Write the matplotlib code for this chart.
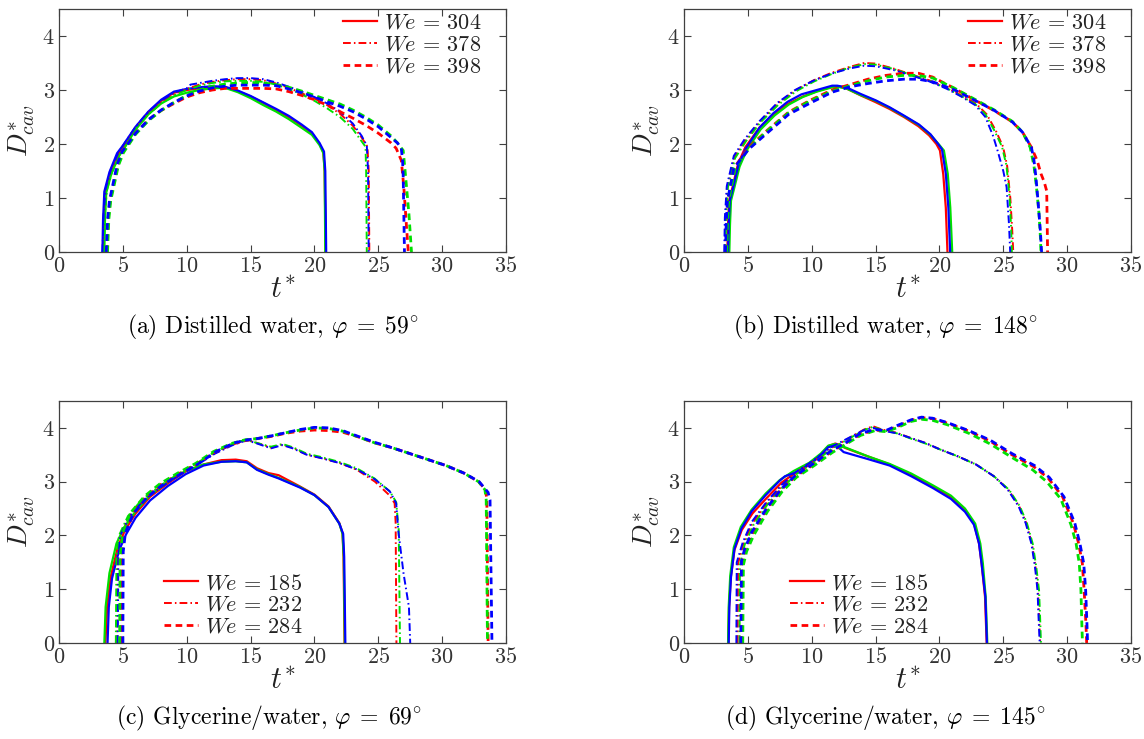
import matplotlib
matplotlib.use('Agg')
import matplotlib.pyplot as plt

plt.rcParams['font.family'] = ['cmr10', 'DejaVu Serif']
plt.rcParams['mathtext.fontset'] = 'cm'
plt.rcParams['axes.unicode_minus'] = False
plt.rcParams['axes.formatter.use_mathtext'] = True

# Weber-Zahlen fuer die Legenden
we_top = [304, 378, 398]
we_bottom = [185, 232, 284]

captions = [r'(a) Distilled water, $\varphi\;=\;59^{\circ}$',
            r'(b) Distilled water, $\varphi\;=\;148^{\circ}$',
            r'(c) Glycerine/water, $\varphi\;=\;69^{\circ}$',
            r'(d) Glycerine/water, $\varphi\;=\;145^{\circ}$']

# ---------------- (a) Distilled water, 59 deg ----------------
a304_r_t = [3.45, 3.5, 3.6, 4.0, 4.6, 5.0, 6.0, 7.0, 8.0, 9.0, 10.0, 11.0, 12.0, 13.0, 14.0, 15.0, 16.0, 17.0, 18.0, 19.0, 19.8, 20.4, 20.7, 20.8, 20.88]
a304_r_d = [0, 0.6, 1.1, 1.45, 1.8, 1.95, 2.3, 2.58, 2.8, 2.95, 3.0, 3.03, 3.05, 3.05, 2.98, 2.88, 2.76, 2.63, 2.5, 2.34, 2.2, 2.0, 1.85, 1.5, 0]
a304_g_t = [3.55, 3.6, 3.7, 4.1, 4.7, 5.1, 6.0, 7.0, 8.0, 9.0, 10.0, 11.0, 12.0, 13.0, 14.0, 15.0, 16.0, 17.0, 18.0, 19.0, 19.8, 20.4, 20.7, 20.8, 20.85]
a304_g_d = [0, 0.6, 1.1, 1.45, 1.78, 1.92, 2.27, 2.55, 2.75, 2.88, 2.95, 3.0, 3.03, 3.04, 2.96, 2.85, 2.72, 2.6, 2.46, 2.3, 2.17, 1.98, 1.83, 1.5, 0]
a304_b_t = [3.4, 3.45, 3.55, 3.95, 4.55, 5.0, 6.0, 7.0, 8.0, 9.0, 10.0, 11.0, 12.0, 13.0, 14.0, 15.0, 16.0, 17.0, 18.0, 19.0, 19.8, 20.4, 20.75, 20.85, 20.92]
a304_b_d = [0, 0.6, 1.12, 1.48, 1.83, 1.97, 2.32, 2.6, 2.82, 2.97, 3.02, 3.05, 3.07, 3.06, 2.99, 2.89, 2.77, 2.65, 2.52, 2.36, 2.22, 2.02, 1.86, 1.5, 0]

a378_r_t = [3.45, 3.55, 3.7, 4.1, 4.7, 5.2, 6.0, 7.0, 8.0, 9.0, 10.0, 11.0, 12.0, 13.0, 14.0, 15.0, 16.0, 17.0, 18.0, 19.0, 20.0, 21.0, 22.0, 23.0, 23.7, 24.15, 24.25, 24.3]
a378_r_d = [0, 0.7, 1.15, 1.5, 1.82, 2.0, 2.3, 2.58, 2.78, 2.92, 3.02, 3.1, 3.15, 3.18, 3.2, 3.2, 3.18, 3.12, 3.04, 2.94, 2.84, 2.72, 2.56, 2.34, 2.12, 1.95, 1.5, 0]
a378_g_t = [3.5, 3.6, 3.75, 4.15, 4.75, 5.25, 6.0, 7.0, 8.0, 9.0, 10.0, 11.0, 12.0, 13.0, 14.0, 15.0, 16.0, 17.0, 18.0, 19.0, 20.0, 21.0, 22.0, 23.0, 23.6, 24.0, 24.05, 24.1]
a378_g_d = [0, 0.7, 1.15, 1.48, 1.8, 1.98, 2.28, 2.55, 2.75, 2.9, 3.0, 3.08, 3.13, 3.16, 3.17, 3.17, 3.15, 3.1, 3.02, 2.92, 2.8, 2.66, 2.5, 2.28, 2.08, 1.95, 1.5, 0]
a378_b_t = [3.4, 3.5, 3.65, 4.05, 4.65, 5.15, 6.0, 7.0, 8.0, 9.0, 10.0, 10.3, 12.0, 13.0, 14.0, 15.0, 16.0, 17.0, 18.0, 19.0, 20.0, 21.0, 22.0, 23.0, 23.7, 24.1, 24.2, 24.25]
a378_b_d = [0, 0.7, 1.17, 1.52, 1.84, 2.02, 2.32, 2.6, 2.8, 2.95, 3.03, 3.1, 3.17, 3.2, 3.22, 3.22, 3.2, 3.14, 3.06, 2.97, 2.87, 2.75, 2.6, 2.38, 2.15, 1.97, 1.5, 0]

a398_r_t = [3.75, 3.85, 4.0, 4.6, 5.0, 6.0, 7.0, 8.0, 9.0, 10.0, 11.0, 12.0, 13.0, 14.0, 15.0, 16.0, 17.0, 18.0, 19.0, 20.0, 21.0, 22.0, 23.0, 24.0, 25.0, 26.0, 26.4, 26.8, 27.0, 27.2, 27.35]
a398_r_d = [0, 0.6, 0.95, 1.6, 1.85, 2.2, 2.45, 2.62, 2.75, 2.87, 2.95, 3.0, 3.03, 3.03, 3.03, 3.03, 3.02, 2.97, 2.9, 2.82, 2.72, 2.6, 2.48, 2.35, 2.2, 2.02, 1.92, 1.7, 1.2, 0.5, 0]
a398_g_t = [3.8, 3.9, 4.05, 4.65, 5.05, 6.0, 7.0, 8.0, 9.0, 10.0, 11.0, 12.0, 13.0, 14.0, 15.0, 16.0, 17.0, 18.0, 19.0, 20.0, 21.0, 22.0, 23.0, 24.0, 25.0, 26.0, 26.5, 26.95, 27.1, 27.4, 27.6]
a398_g_d = [0, 0.6, 0.95, 1.6, 1.84, 2.18, 2.43, 2.62, 2.77, 2.9, 3.0, 3.07, 3.11, 3.13, 3.14, 3.13, 3.1, 3.05, 2.98, 2.9, 2.82, 2.74, 2.63, 2.5, 2.35, 2.15, 2.02, 1.88, 1.5, 0.7, 0]
a398_b_t = [3.7, 3.8, 3.95, 4.55, 4.95, 6.0, 7.0, 8.0, 9.0, 10.0, 11.0, 12.0, 13.0, 14.0, 15.0, 16.0, 17.0, 18.0, 19.0, 20.0, 21.0, 22.0, 23.0, 24.0, 25.0, 26.0, 26.5, 26.8, 26.9, 26.95, 27.05]
a398_b_d = [0, 0.6, 0.95, 1.62, 1.86, 2.2, 2.45, 2.63, 2.77, 2.89, 2.98, 3.04, 3.07, 3.09, 3.09, 3.09, 3.08, 3.02, 2.95, 2.87, 2.78, 2.7, 2.6, 2.47, 2.32, 2.12, 2.02, 1.92, 1.7, 1.4, 0]

# ---------------- (b) Distilled water, 148 deg ----------------
b304_r_t = [3.39, 3.45, 3.53, 3.8, 4.23, 4.8, 5.93, 7.06, 8.19, 9.31, 10.44, 11.57, 12.0, 12.7, 13.83, 14.96, 16.09, 17.22, 18.35, 19.19, 19.76, 20.04, 20.3, 20.5, 20.63]
b304_r_d = [0, 0.5, 0.95, 1.2, 1.63, 1.94, 2.31, 2.56, 2.75, 2.88, 2.98, 3.06, 3.07, 3.03, 2.9, 2.78, 2.65, 2.5, 2.33, 2.16, 2.0, 1.88, 1.44, 0.82, 0]
b304_g_t = [3.55, 3.6, 3.68, 3.95, 4.35, 4.9, 6.0, 7.1, 8.2, 9.3, 10.4, 11.6, 12.0, 12.7, 13.8, 15.0, 16.1, 17.2, 18.4, 19.3, 20.0, 20.35, 20.65, 20.85, 21.0]
b304_g_d = [0, 0.5, 0.95, 1.2, 1.58, 1.88, 2.27, 2.53, 2.73, 2.87, 2.97, 3.05, 3.06, 3.03, 2.91, 2.8, 2.67, 2.52, 2.35, 2.17, 1.98, 1.88, 1.45, 0.82, 0]
b304_b_t = [3.45, 3.5, 3.58, 3.85, 4.25, 4.8, 5.9, 7.0, 8.1, 9.2, 10.4, 11.6, 12.0, 12.7, 13.8, 15.0, 16.1, 17.2, 18.4, 19.3, 19.9, 20.2, 20.5, 20.7, 20.84]
b304_b_d = [0, 0.5, 0.95, 1.2, 1.6, 1.9, 2.3, 2.57, 2.78, 2.92, 3.0, 3.08, 3.08, 3.05, 2.93, 2.81, 2.68, 2.53, 2.36, 2.18, 2.0, 1.9, 1.45, 0.82, 0]

b378_r_t = [3.2, 3.25, 3.39, 3.95, 4.8, 5.93, 7.34, 8.75, 10.16, 11.57, 13.0, 14.1, 14.96, 16.37, 17.78, 19.19, 20.6, 21.73, 22.86, 23.7, 24.41, 24.98, 25.3, 25.55, 25.7, 25.78]
b378_r_d = [0, 0.64, 1.2, 1.76, 2.07, 2.41, 2.75, 3.0, 3.18, 3.32, 3.43, 3.5, 3.49, 3.4, 3.29, 3.18, 3.04, 2.9, 2.75, 2.55, 2.25, 1.95, 1.6, 1.0, 0.4, 0]
b378_g_t = [3.25, 3.3, 3.44, 4.0, 4.85, 5.98, 7.4, 8.8, 10.2, 11.6, 13.0, 14.2, 15.0, 16.4, 17.8, 19.2, 20.6, 21.7, 22.8, 23.6, 24.3, 24.9, 25.25, 25.5, 25.62, 25.67]
b378_g_d = [0, 0.64, 1.2, 1.74, 2.05, 2.4, 2.73, 2.98, 3.16, 3.3, 3.42, 3.48, 3.47, 3.39, 3.28, 3.17, 3.03, 2.89, 2.74, 2.55, 2.25, 1.95, 1.6, 1.0, 0.4, 0]
b378_b_t = [3.15, 3.2, 3.35, 3.9, 4.75, 5.9, 7.3, 8.7, 10.1, 11.5, 13.0, 14.1, 15.0, 16.4, 17.8, 19.2, 20.6, 21.7, 22.8, 23.6, 24.2, 24.55, 25.0, 25.26, 25.45, 25.54]
b378_b_d = [0, 0.64, 1.22, 1.78, 2.09, 2.42, 2.76, 3.0, 3.17, 3.3, 3.4, 3.45, 3.44, 3.37, 3.27, 3.16, 3.02, 2.88, 2.72, 2.5, 2.15, 1.88, 1.5, 1.2, 0.5, 0]

b398_r_t = [3.3, 3.35, 3.45, 3.95, 5.08, 6.5, 8.19, 9.88, 11.57, 13.0, 14.4, 15.8, 17.2, 18.35, 19.47, 21.17, 22.58, 24.27, 25.7, 26.5, 27.2, 27.66, 27.95, 28.2, 28.4, 28.47]
b398_r_d = [0, 0.5, 0.95, 1.57, 1.94, 2.25, 2.59, 2.81, 3.0, 3.1, 3.2, 3.27, 3.31, 3.31, 3.24, 3.03, 2.84, 2.62, 2.41, 2.22, 1.94, 1.69, 1.45, 1.3, 1.13, 0]
b398_g_t = [3.35, 3.4, 3.5, 4.0, 5.1, 6.5, 8.2, 9.9, 11.6, 13.0, 14.4, 15.8, 17.2, 18.35, 19.5, 21.2, 22.6, 24.3, 25.7, 26.5, 27.1, 27.4, 27.6, 27.8, 27.9, 27.95]
b398_g_d = [0, 0.5, 0.95, 1.55, 1.92, 2.24, 2.58, 2.8, 2.98, 3.08, 3.17, 3.24, 3.27, 3.27, 3.22, 3.03, 2.85, 2.63, 2.42, 2.22, 1.94, 1.6, 1.2, 0.7, 0.3, 0]
b398_b_t = [3.25, 3.3, 3.4, 3.9, 5.05, 6.5, 8.2, 9.9, 11.6, 13.0, 14.4, 15.8, 17.2, 18.35, 19.5, 21.2, 22.6, 24.3, 25.7, 26.5, 27.2, 27.4, 27.55, 27.7, 27.9, 28.0]
b398_b_d = [0, 0.5, 0.95, 1.55, 1.9, 2.2, 2.55, 2.76, 2.96, 3.06, 3.12, 3.17, 3.2, 3.2, 3.15, 3.0, 2.83, 2.62, 2.41, 2.22, 1.94, 1.7, 1.4, 1.0, 0.4, 0]

# ---------------- (c) Glycerine/water, 69 deg ----------------
c185_r_t = [3.63, 3.77, 4.05, 4.61, 5.17, 6.0, 7.13, 8.53, 9.92, 11.32, 12.72, 13.84, 14.7, 15.5, 16.4, 17.2, 18.87, 20.0, 21.1, 21.95, 22.2, 22.28, 22.36]
c185_r_d = [0, 0.67, 1.23, 1.79, 2.1, 2.41, 2.72, 2.97, 3.19, 3.32, 3.4, 3.41, 3.38, 3.25, 3.16, 3.12, 2.91, 2.76, 2.54, 2.23, 2.04, 1.6, 0]
c185_g_t = [3.55, 3.65, 3.95, 4.5, 5.1, 6.0, 7.13, 8.53, 9.92, 11.32, 12.72, 13.84, 14.7, 15.5, 16.4, 17.2, 18.87, 20.0, 21.1, 21.95, 22.2, 22.3, 22.38]
c185_g_d = [0, 0.67, 1.3, 1.85, 2.15, 2.45, 2.75, 3.0, 3.2, 3.32, 3.37, 3.38, 3.36, 3.23, 3.14, 3.07, 2.9, 2.75, 2.53, 2.22, 2.03, 1.6, 0]
c185_b_t = [3.8, 3.9, 4.15, 4.7, 5.25, 6.0, 7.13, 8.53, 9.92, 11.32, 12.72, 13.84, 14.7, 15.5, 16.4, 17.2, 18.87, 20.0, 21.1, 21.95, 22.25, 22.33, 22.42]
c185_b_d = [0, 0.67, 1.2, 1.72, 2.02, 2.33, 2.65, 2.92, 3.14, 3.3, 3.37, 3.38, 3.36, 3.22, 3.13, 3.06, 2.89, 2.75, 2.53, 2.22, 2.03, 1.6, 0]

c232_r_t = [4.55, 4.6, 4.75, 5.45, 6.57, 7.97, 9.37, 10.76, 12.16, 13.56, 14.68, 15.5, 16.63, 17.47, 18.3, 19.43, 20.55, 21.95, 23.34, 24.74, 25.86, 26.28, 26.36, 26.42]
c232_r_d = [0, 1.6, 2.0, 2.35, 2.66, 2.91, 3.13, 3.32, 3.53, 3.69, 3.78, 3.72, 3.63, 3.69, 3.63, 3.5, 3.44, 3.35, 3.22, 3.0, 2.75, 2.6, 2.23, 0]
c232_g_t = [4.45, 4.5, 4.7, 5.4, 6.5, 7.9, 9.3, 10.7, 12.1, 13.5, 14.6, 15.5, 16.6, 17.5, 18.3, 19.4, 20.5, 21.9, 23.3, 24.7, 25.9, 26.4, 26.6, 26.7]
c232_g_d = [0, 1.6, 2.0, 2.36, 2.67, 2.92, 3.14, 3.33, 3.54, 3.7, 3.78, 3.72, 3.65, 3.7, 3.64, 3.52, 3.46, 3.37, 3.25, 3.06, 2.82, 2.62, 2.1, 0]
c232_b_t = [4.6, 4.65, 4.8, 5.5, 6.6, 8.0, 9.4, 10.8, 12.2, 13.6, 14.7, 15.5, 16.6, 17.5, 18.3, 19.4, 20.5, 21.9, 23.3, 24.7, 25.9, 26.4, 26.56, 26.98, 27.4, 27.5]
c232_b_d = [0, 1.6, 2.0, 2.34, 2.65, 2.9, 3.12, 3.31, 3.52, 3.68, 3.77, 3.71, 3.62, 3.68, 3.62, 3.5, 3.44, 3.35, 3.23, 3.05, 2.82, 2.6, 2.1, 1.29, 0.67, 0]

c284_r_t = [4.85, 4.88, 5.1, 5.7, 6.8, 8.0, 9.4, 10.8, 12.2, 13.6, 14.7, 15.5, 16.6, 17.75, 18.87, 20.0, 21.1, 22.2, 23.34, 24.74, 26.1, 27.5, 28.9, 30.3, 31.7, 32.85, 33.4, 33.5, 33.6]
c284_r_d = [0, 1.6, 2.05, 2.4, 2.72, 2.95, 3.15, 3.33, 3.55, 3.7, 3.77, 3.8, 3.84, 3.9, 3.94, 3.96, 3.95, 3.92, 3.84, 3.72, 3.63, 3.52, 3.41, 3.3, 3.16, 3.0, 2.85, 2.66, 0]
c284_g_t = [4.75, 4.78, 5.0, 5.6, 6.7, 7.9, 9.3, 10.7, 12.1, 13.5, 14.6, 15.5, 16.6, 17.75, 18.87, 20.0, 21.1, 22.2, 23.34, 24.74, 26.1, 27.5, 28.9, 30.3, 31.7, 32.85, 33.35, 33.45, 33.55]
c284_g_d = [0, 1.6, 2.05, 2.42, 2.73, 2.96, 3.16, 3.34, 3.56, 3.71, 3.78, 3.8, 3.85, 3.91, 3.96, 4.0, 3.99, 3.94, 3.84, 3.72, 3.63, 3.52, 3.41, 3.3, 3.16, 3.0, 2.85, 2.66, 0]
c284_b_t = [5.0, 5.03, 5.2, 5.8, 6.9, 8.1, 9.5, 10.9, 12.3, 13.7, 14.8, 15.5, 16.6, 17.75, 18.87, 20.0, 21.1, 22.2, 23.34, 24.74, 26.1, 27.5, 28.9, 30.3, 31.7, 32.9, 33.6, 33.75, 33.9]
c284_b_d = [0, 1.7, 2.05, 2.4, 2.71, 2.94, 3.14, 3.33, 3.56, 3.72, 3.78, 3.8, 3.85, 3.91, 3.97, 4.01, 4.0, 3.95, 3.85, 3.73, 3.63, 3.52, 3.41, 3.3, 3.16, 3.0, 2.8, 2.66, 0]

# ---------------- (d) Glycerine/water, 145 deg ----------------
d185_r_t = [3.47, 3.53, 3.67, 3.95, 4.52, 5.36, 6.49, 7.62, 8.75, 9.88, 10.73, 11.29, 11.85, 12.7, 14.4, 16.1, 17.8, 19.5, 20.9, 22.0, 22.7, 23.1, 23.3, 23.57, 23.7]
d185_r_d = [0, 0.67, 1.23, 1.73, 2.1, 2.41, 2.7, 2.98, 3.17, 3.32, 3.5, 3.66, 3.71, 3.62, 3.47, 3.32, 3.13, 2.91, 2.72, 2.48, 2.23, 1.85, 1.48, 0.86, 0]
d185_g_t = [3.45, 3.5, 3.62, 3.9, 4.45, 5.3, 6.4, 7.5, 8.6, 9.8, 10.7, 11.3, 11.8, 12.7, 14.4, 16.1, 17.8, 19.5, 20.9, 22.0, 22.8, 23.2, 23.4, 23.62, 23.75]
d185_g_d = [0, 0.67, 1.25, 1.78, 2.16, 2.48, 2.78, 3.03, 3.2, 3.35, 3.52, 3.67, 3.7, 3.63, 3.47, 3.33, 3.15, 2.93, 2.74, 2.5, 2.22, 1.85, 1.48, 0.86, 0]
d185_b_t = [3.5, 3.55, 3.68, 3.95, 4.5, 5.3, 6.4, 7.5, 7.9, 8.75, 9.88, 10.73, 11.29, 11.9, 12.5, 14.4, 16.1, 17.8, 19.5, 20.9, 22.0, 22.7, 23.1, 23.3, 23.6, 23.72]
d185_b_d = [0, 0.67, 1.23, 1.75, 2.13, 2.45, 2.75, 3.02, 3.1, 3.17, 3.33, 3.5, 3.64, 3.68, 3.55, 3.42, 3.3, 3.1, 2.88, 2.68, 2.44, 2.2, 1.85, 1.48, 0.86, 0]

d232_r_t = [4.2, 4.23, 4.66, 5.36, 6.49, 7.62, 8.75, 10.16, 11.57, 12.7, 14.1, 14.8, 15.5, 16.65, 17.78, 18.9, 20.04, 21.45, 22.86, 24.27, 25.4, 26.25, 26.8, 27.24, 27.52, 27.72, 27.8, 27.89]
d232_r_d = [0, 1.48, 1.85, 2.23, 2.6, 2.91, 3.16, 3.38, 3.63, 3.78, 3.97, 4.03, 3.97, 3.91, 3.81, 3.72, 3.6, 3.47, 3.32, 3.1, 2.85, 2.54, 2.23, 1.85, 1.42, 0.98, 0.49, 0]
d232_g_t = [4.35, 4.38, 4.75, 5.45, 6.55, 7.7, 8.8, 10.2, 11.6, 12.7, 14.1, 14.8, 15.5, 16.65, 17.78, 18.9, 20.04, 21.45, 22.86, 24.27, 25.45, 26.3, 26.85, 27.3, 27.58, 27.8, 27.88, 27.95]
d232_g_d = [0, 1.45, 1.83, 2.2, 2.58, 2.89, 3.14, 3.36, 3.62, 3.77, 3.96, 4.02, 3.96, 3.9, 3.8, 3.71, 3.6, 3.47, 3.32, 3.1, 2.85, 2.54, 2.23, 1.85, 1.42, 0.98, 0.49, 0]
d232_b_t = [4.1, 4.13, 4.6, 5.3, 6.45, 7.6, 8.7, 10.1, 11.5, 12.7, 14.1, 14.8, 15.5, 16.65, 17.78, 18.9, 20.04, 21.45, 22.86, 24.27, 25.35, 26.2, 26.75, 27.2, 27.48, 27.68, 27.76, 27.85]
d232_b_d = [0, 1.5, 1.87, 2.25, 2.62, 2.93, 3.17, 3.39, 3.64, 3.79, 3.96, 4.0, 3.95, 3.9, 3.81, 3.72, 3.6, 3.47, 3.32, 3.1, 2.85, 2.54, 2.23, 1.85, 1.42, 0.98, 0.49, 0]

d284_r_t = [4.5, 4.55, 4.8, 5.36, 6.49, 7.62, 8.75, 10.16, 11.57, 12.7, 13.83, 14.96, 15.8, 16.65, 17.78, 18.6, 19.47, 20.6, 22.3, 23.99, 25.68, 27.38, 28.5, 29.64, 30.48, 30.9, 31.19, 31.33, 31.47, 31.53]
d284_r_d = [0, 1.5, 1.73, 2.04, 2.48, 2.85, 3.1, 3.32, 3.56, 3.72, 3.88, 3.96, 3.94, 4.02, 4.14, 4.19, 4.17, 4.09, 3.94, 3.75, 3.5, 3.28, 3.07, 2.72, 2.23, 1.85, 1.48, 0.98, 0.36, 0]
d284_g_t = [4.6, 4.65, 4.9, 5.45, 6.55, 7.7, 8.8, 10.2, 11.6, 12.7, 13.83, 14.96, 15.8, 16.65, 17.78, 18.6, 19.47, 20.6, 22.3, 23.99, 25.68, 27.3, 28.4, 29.5, 30.3, 30.7, 30.95, 31.08, 31.15, 31.2]
d284_g_d = [0, 1.45, 1.7, 2.0, 2.45, 2.82, 3.08, 3.3, 3.54, 3.7, 3.86, 3.95, 3.93, 4.0, 4.12, 4.16, 4.14, 4.06, 3.9, 3.7, 3.45, 3.22, 3.0, 2.68, 2.2, 1.85, 1.48, 0.98, 0.36, 0]
d284_b_t = [4.45, 4.5, 4.75, 5.3, 6.45, 7.6, 8.7, 10.1, 11.5, 12.7, 13.83, 14.96, 15.8, 16.65, 17.78, 18.6, 19.47, 20.6, 22.3, 23.99, 25.7, 27.45, 28.6, 29.75, 30.6, 31.0, 31.3, 31.45, 31.55, 31.6]
d284_b_d = [0, 1.52, 1.75, 2.06, 2.5, 2.86, 3.11, 3.33, 3.57, 3.73, 3.9, 3.97, 3.95, 4.04, 4.15, 4.2, 4.18, 4.1, 3.95, 3.77, 3.52, 3.3, 3.08, 2.72, 2.23, 1.85, 1.48, 0.98, 0.36, 0]

# Kurven je Panel: (Linienstil, [(t, D) fuer rot, gruen, blau])
panels = [
    [('solid', [(a304_r_t, a304_r_d), (a304_g_t, a304_g_d), (a304_b_t, a304_b_d)]),
     ('dashdot', [(a378_r_t, a378_r_d), (a378_g_t, a378_g_d), (a378_b_t, a378_b_d)]),
     ('dashed', [(a398_r_t, a398_r_d), (a398_g_t, a398_g_d), (a398_b_t, a398_b_d)])],
    [('solid', [(b304_r_t, b304_r_d), (b304_g_t, b304_g_d), (b304_b_t, b304_b_d)]),
     ('dashdot', [(b378_r_t, b378_r_d), (b378_g_t, b378_g_d), (b378_b_t, b378_b_d)]),
     ('dashed', [(b398_r_t, b398_r_d), (b398_g_t, b398_g_d), (b398_b_t, b398_b_d)])],
    [('solid', [(c185_r_t, c185_r_d), (c185_g_t, c185_g_d), (c185_b_t, c185_b_d)]),
     ('dashdot', [(c232_r_t, c232_r_d), (c232_g_t, c232_g_d), (c232_b_t, c232_b_d)]),
     ('dashed', [(c284_r_t, c284_r_d), (c284_g_t, c284_g_d), (c284_b_t, c284_b_d)])],
    [('solid', [(d185_r_t, d185_r_d), (d185_g_t, d185_g_d), (d185_b_t, d185_b_d)]),
     ('dashdot', [(d232_r_t, d232_r_d), (d232_g_t, d232_g_d), (d232_b_t, d232_b_d)]),
     ('dashed', [(d284_r_t, d284_r_d), (d284_g_t, d284_g_d), (d284_b_t, d284_b_d)])],
]
legend_we = [we_top, we_top, we_bottom, we_bottom]

colors = ['#ff0000', '#00e000', '#0000ff']
styles = {'solid': dict(linestyle='-', linewidth=1.6),
          'dashdot': dict(linestyle=(0, (4.0, 1.6, 0.8, 1.6)), linewidth=1.4),
          'dashed': dict(linestyle=(0, (2.4, 1.6)), linewidth=2.0)}

W, H = 1144, 739
fig = plt.figure(figsize=(W / 100, H / 100), dpi=100)

# Achsenpositionen in Pixeln (links, y der x-Achse, Breite, Hoehe)
boxes = [(59, 252, 447, 243), (684, 252, 447, 243),
         (59, 643, 447, 242), (684, 643, 447, 242)]
cap_pos = [(273, 327), (885, 327), (269, 718), (885, 718)]
leg_anchor = [(22.2, 4.42), (22.2, 4.42), (8.2, 1.3), (8.3, 1.3)]

grey = '#404040'
for i, ax_box in enumerate(boxes):
    x0, y0, w, h = ax_box
    ax = fig.add_axes([x0 / W, (H - y0) / H, w / W, h / H])
    handles = []
    for style, curves in panels[i]:
        for k, (t, d) in enumerate(curves):
            line, = ax.plot(t, d, color=colors[k], **styles[style])
            if k == 0:
                handles.append(line)

    ax.set_xlim(0, 35)
    ax.set_ylim(0, 4.5)
    ax.set_xticks(range(0, 36, 5))
    ax.set_yticks(range(0, 5))
    ax.tick_params(direction='in', length=5, width=0.8, top=True, right=True,
                   labelsize=16, colors=grey, labelcolor='#333333', pad=3)
    for sp in ax.spines.values():
        sp.set_color(grey)
        sp.set_linewidth(0.9)

    ax.set_xlabel(r'$t^{*}$', fontsize=22, color='#222222')
    ax.set_ylabel(r'$D^{*}_{cav}$', fontsize=20, color='#222222')
    ax.xaxis.set_label_coords(0.5, -0.10)
    ax.yaxis.set_label_coords(-0.05, 0.5)

    labels = [r'$We\,=\,%d$' % we for we in legend_we[i]]
    ax.legend(handles, labels, loc='upper left', bbox_to_anchor=leg_anchor[i],
              bbox_transform=ax.transData, frameon=False, fontsize=16,
              handlelength=1.55, handletextpad=0.3, labelspacing=0.1,
              borderpad=0, borderaxespad=0, labelcolor='#222222')

    cx, cy = cap_pos[i]
    fig.text(cx / W, (H - cy) / H, captions[i], fontsize=17, ha='center', va='center')

fig.savefig('out.png', dpi=100)
